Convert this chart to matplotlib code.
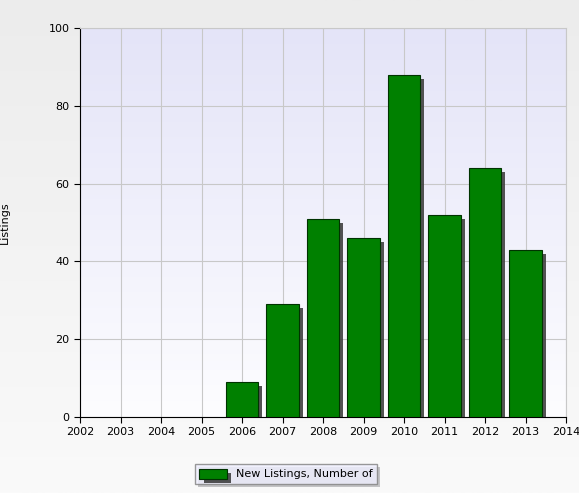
import matplotlib
matplotlib.use("Agg")
import matplotlib.pyplot as plt
import matplotlib.patheffects as pe
import numpy as np

years = [2006, 2007, 2008, 2009, 2010, 2011, 2012, 2013]
values = [9, 29, 51, 46, 88, 52, 64, 43]
xticks = list(range(2002, 2015))
yticks = [0, 20, 40, 60, 80, 100]

fig = plt.figure(figsize=(5.79, 4.93), dpi=100)
# figure gradient background
bg = fig.add_axes([0, 0, 1, 1], zorder=-10)
g = np.linspace(0, 1, 256).reshape(-1, 1)
from matplotlib.colors import LinearSegmentedColormap
cmf = LinearSegmentedColormap.from_list("f", ["#ececec", "#fafafa"])
bg.imshow(g, aspect="auto", cmap=cmf, extent=[0, 1, 0, 1], origin="upper")
bg.axis("off")

ax = fig.add_axes([80/579, 1-417/493, (566-80)/579, (417-28)/493])
cma = LinearSegmentedColormap.from_list("a", ["#e4e4f8", "#fdfdff"])
ax.imshow(g, aspect="auto", cmap=cma, extent=[2002, 2014, 0, 100], origin="upper", zorder=0)

ax.bar(years, values, width=0.8, color="#008000", edgecolor="#003300", linewidth=0.8, zorder=3,
       path_effects=[pe.SimplePatchShadow(offset=(3, -3), shadow_rgbFace="#404040", alpha=0.9), pe.Normal()],
       label="New Listings, Number of")
ax.set_xlim(2002, 2014)
ax.set_ylim(0, 100)
ax.set_xticks(xticks)
ax.set_yticks(yticks)
ax.tick_params(labelsize=8, length=4)
ax.grid(True, color="#c8c8c8", linewidth=0.8, zorder=1)
ax.set_axisbelow(True)
for s in ["top", "right"]:
    ax.spines[s].set_color("#c8c8c8")
ax.set_ylabel("Listings", fontsize=8, labelpad=28)

leg = fig.legend(loc="center", bbox_to_anchor=(286/579, 1-474/493), fontsize=8, frameon=True,
                 fancybox=False, edgecolor="#808080", handlelength=2.5, handleheight=1.0)
leg.get_frame().set_facecolor("#f0f0ff")
leg.get_frame().set_path_effects([pe.SimplePatchShadow(offset=(2, -2)), pe.Normal()])

fig.savefig("out.png", dpi=100)
